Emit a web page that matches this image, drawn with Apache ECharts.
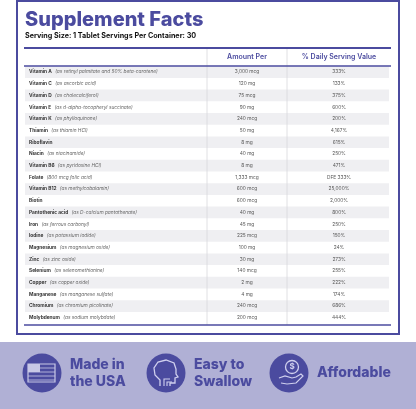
<!DOCTYPE html>
<html><head><meta charset="utf-8">
<script src="https://cdn.jsdelivr.net/npm/echarts@6/dist/echarts.min.js"></script>
<style>html,body{margin:0;padding:0;background:#fff}#c{width:416px;height:409px}</style>
</head><body><div id="c"></div>
<script>
const nutrients=["Vitamin A","Vitamin C","Vitamin D","Vitamin E","Vitamin K","Thiamin","Riboflavin","Niacin","Vitamin B6","Folate","Vitamin B12","Biotin","Pantothenic acid","Iron","Iodine","Magnesium","Zinc","Selenium","Copper","Manganese","Chromium","Molybdenum"];
const forms=["(as retinyl palmitate and 50% beta-carotene)","(as ascorbic acid)","(as cholecalciferol)","(as d-alpha-tocopheryl succinate)","(as phylloquinone)","(as thiamin HCl)","","(as niacinamide)","(as pyridoxine HCl)","(800 mcg folic acid)","(as methylcobalamin)","","(as D-calcium pantothenate)","(as ferrous carbonyl)","(as potassium iodide)","(as magnesium oxide)","(as zinc oxide)","(as selenomethionine)","(as copper oxide)","(as manganese sulfate)","(as chromium picolinate)","(as sodium molybdate)"];
const amounts=["3,000 mcg","120 mg","75 mcg","90 mg","240 mcg","50 mg","8 mg","40 mg","8 mg","1,333 mcg","600 mcg","600 mcg","40 mg","45 mg","225 mcg","100 mg","30 mg","140 mcg","2 mg","4 mg","240 mcg","200 mcg"];
const dv=["333%","133%","375%","600%","200%","4,167%","615%","250%","471%","DFE 333%","25,000%","2,000%","800%","250%","150%","24%","273%","255%","222%","174%","686%","444%"];
const badges=[["Made in","the USA"],["Easy to","Swallow"],["Affordable"]];
const P='#4b4b9f',F='Inter, "Noto Sans", sans-serif',W='#d0d0ee';
const g=[];
g.push({type:'rect',shape:{x:17,y:1,width:382,height:333},style:{fill:'#fff',stroke:P,lineWidth:2}});
g.push({type:'text',x:25,y:20,style:{text:'Supplement Facts',font:'800 20px '+F,fill:P,verticalAlign:'middle'}});
g.push({type:'text',x:25,y:36,style:{text:'Serving Size: 1 Tablet Servings Per Container: 30',font:'bold 7.2px '+F,fill:'#111',verticalAlign:'middle'}});
const y0=72,dy=11.7;
nutrients.forEach((n,i)=>{
 const y=y0+i*dy;
 if(i%2===0)g.push({type:'rect',shape:{x:25,y:y-5.8,width:364,height:dy},style:{fill:'#efeff2'}});
 g.push({type:'text',x:29,y:y,style:{rich:{b:{font:'bold 4.8px '+F,fill:'#333'},i:{font:'italic 4.8px '+F,fill:'#666'}},text:'{b|'+n+'} {i|'+forms[i]+'}',verticalAlign:'middle'}});
 g.push({type:'text',x:247,y:y,style:{text:amounts[i],font:'4.8px '+F,fill:'#555',align:'center',verticalAlign:'middle'}});
 g.push({type:'text',x:339,y:y,style:{text:dv[i],font:'4.8px '+F,fill:'#555',align:'center',verticalAlign:'middle'}});
});
[207,287].forEach(x=>g.push({type:'line',shape:{x1:x,y1:48,x2:x,y2:325},style:{stroke:'#d8d8dc',lineWidth:0.8}}));
g.push({type:'line',shape:{x1:24,y1:48,x2:391,y2:48},style:{stroke:P,lineWidth:2}});
g.push({type:'line',shape:{x1:24,y1:66,x2:391,y2:66},style:{stroke:P,lineWidth:1.5}});
g.push({type:'line',shape:{x1:24,y1:325,x2:391,y2:325},style:{stroke:P,lineWidth:1.5}});
g.push({type:'text',x:247,y:57,style:{text:'Amount Per',font:'600 7px '+F,fill:P,align:'center',verticalAlign:'middle'}});
g.push({type:'text',x:339,y:57,style:{text:'% Daily Serving Value',font:'600 7px '+F,fill:P,align:'center',verticalAlign:'middle'}});
g.push({type:'rect',shape:{x:0,y:342,width:416,height:67},style:{fill:'#b0b0d5'}});
const cx=[42,166,289];
badges.forEach((b,k)=>{
 g.push({type:'circle',shape:{cx:cx[k],cy:373,r:19.5},style:{fill:P}});
 const tx=cx[k]+28;
 if(b.length===2){
  g.push({type:'text',x:tx,y:365,style:{text:b[0],font:'800 14px '+F,fill:P,verticalAlign:'middle'}});
  g.push({type:'text',x:tx,y:382,style:{text:b[1],font:'800 14px '+F,fill:P,verticalAlign:'middle'}});
 } else g.push({type:'text',x:tx,y:373,style:{text:b[0],font:'800 14px '+F,fill:P,verticalAlign:'middle'}});
});
g.push({type:'rect',shape:{x:28,y:364,width:27,height:18},style:{fill:'none',stroke:'#c8c8e6',lineWidth:1.2}});
for(let j=0;j<4;j++)g.push({type:'line',shape:{x1:28,y1:368+j*4,x2:55,y2:368+j*4},style:{stroke:'#c8c8e6',lineWidth:0.8}});
g.push({type:'rect',shape:{x:28,y:364,width:12,height:8},style:{fill:'#c8c8e6'}});
g.push({type:'polyline',shape:{points:[[160,386],[160,380],[155,375],[154,368],[158,362],[166,360],[174,363],[176,369],[176,374],[178,377],[175,378],[175,383],[170,383],[170,386]]},style:{fill:'none',stroke:W,lineWidth:1.3}});
g.push({type:'polyline',shape:{points:[[164,386],[164,379],[170,379]]},style:{fill:'none',stroke:W,lineWidth:1.1}});
g.push({type:'polyline',shape:{points:[[167,386],[167,382],[172,382]]},style:{fill:'none',stroke:W,lineWidth:1.1}});
g.push({type:'circle',shape:{cx:292,cy:367,r:6.5},style:{fill:'none',stroke:W,lineWidth:1.3}});
g.push({type:'text',x:292,y:367,style:{text:'$',font:'bold 8px '+F,fill:W,align:'center',verticalAlign:'middle'}});
g.push({type:'polyline',shape:{points:[[279,378],[285,376],[292,378],[296,377],[301,374],[303,376],[296,383],[287,384],[281,383]]},style:{fill:'none',stroke:W,lineWidth:1.2}});
const ch=echarts.init(document.getElementById('c'));
ch.setOption({animation:false,graphic:g});
</script></body></html>
